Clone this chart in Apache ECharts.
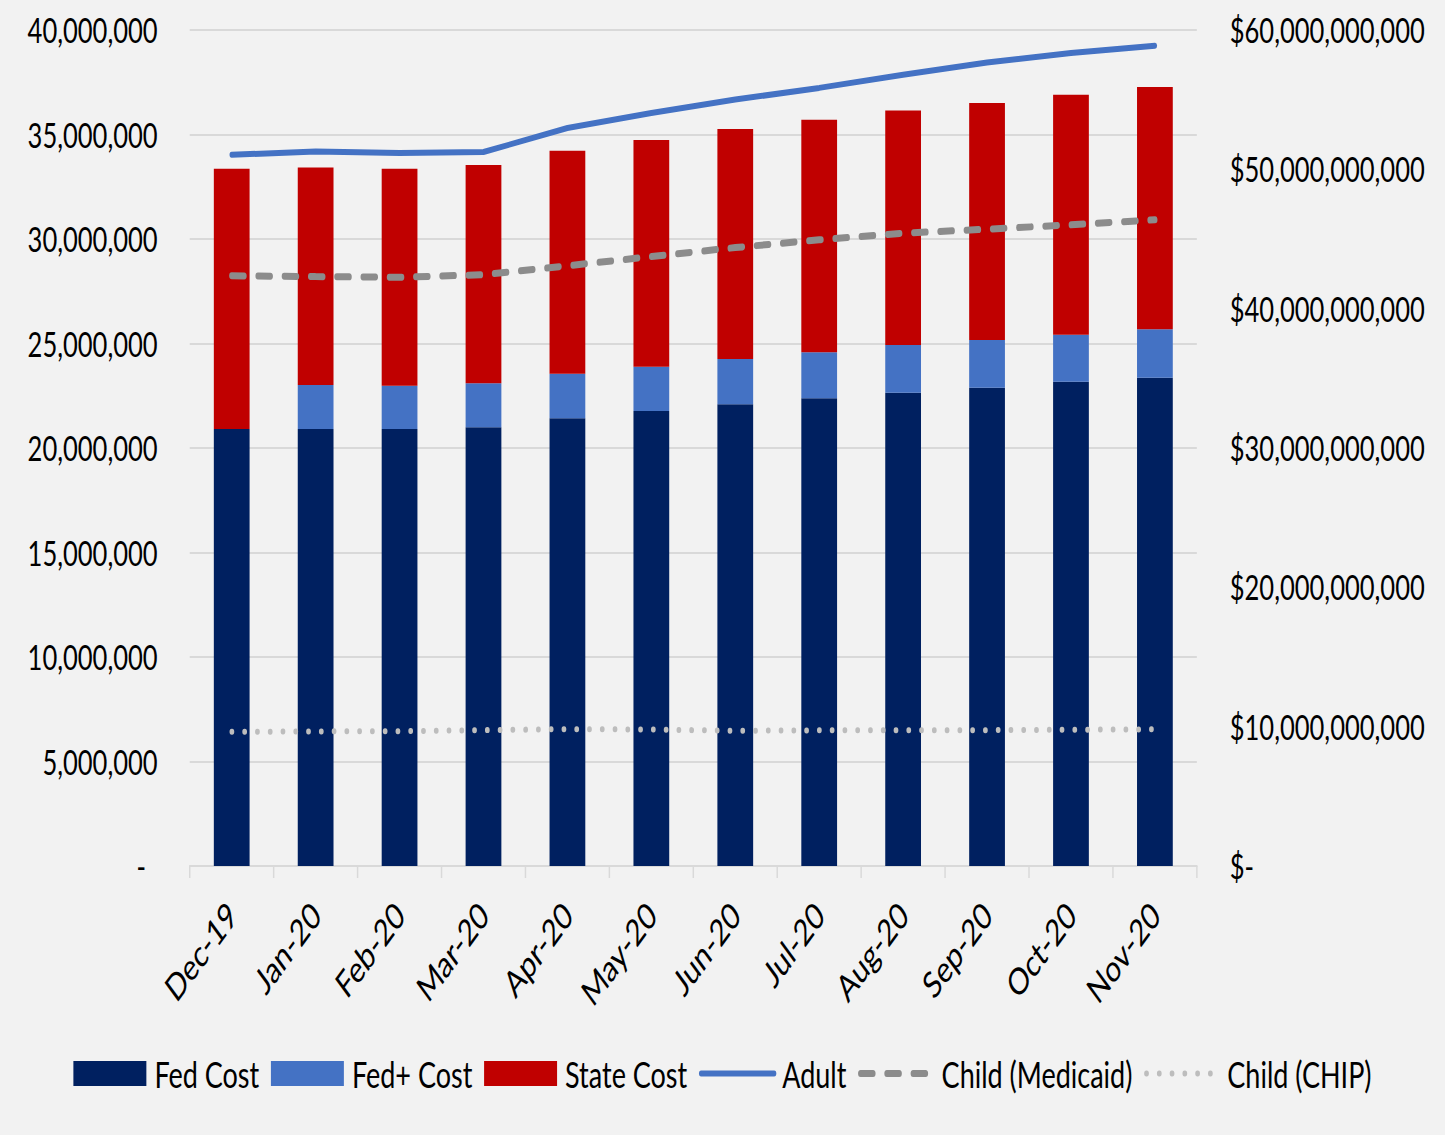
<!DOCTYPE html>
<html>
<head>
<meta charset="utf-8">
<script src="https://cdn.jsdelivr.net/npm/echarts@6/dist/echarts.min.js"></script>
<style>
  html, body { margin: 0; padding: 0; background: #f2f2f2; }
  #wrap { width: 1445px; height: 1135px; overflow: hidden; }
  /* the source picture is squeezed sideways, so the chart is drawn wider and squeezed the same way */
  #chart { width: 1980px; height: 1135px; transform: scaleX(0.729798); transform-origin: 0 0; }
</style>
</head>
<body>
<div id="wrap"><div id="chart"></div></div>
<script>
// months on the x axis
var months = ['Dec-19', 'Jan-20', 'Feb-20', 'Mar-20', 'Apr-20', 'May-20',
              'Jun-20', 'Jul-20', 'Aug-20', 'Sep-20', 'Oct-20', 'Nov-20'];

// costs in dollars (right axis)
var fedCost = [31370000000, 31370000000, 31370000000, 31490000000, 32130000000, 32660000000,
               33140000000, 33570000000, 33970000000, 34330000000, 34760000000, 35050000000];
var fedPlusCost = [0, 3160000000, 3090000000, 3160000000, 3190000000, 3180000000,
                   3250000000, 3310000000, 3430000000, 3430000000, 3360000000, 3480000000];
var stateCost = [18670000000, 15610000000, 15590000000, 15660000000, 16020000000, 16260000000,
                 16500000000, 16680000000, 16830000000, 17000000000, 17240000000, 17380000000];

// enrollment (left axis)
var adult = [34030000, 34190000, 34110000, 34160000, 35310000, 36030000,
             36670000, 37230000, 37860000, 38450000, 38900000, 39250000];
var childMedicaid = [28240000, 28200000, 28170000, 28290000, 28720000, 29160000,
                     29590000, 29960000, 30280000, 30470000, 30680000, 30920000];
var childChip = [6420000, 6440000, 6450000, 6500000, 6550000, 6530000,
                 6470000, 6490000, 6490000, 6500000, 6520000, 6540000];

var FONT = "Lato, 'Open Sans', sans-serif";
var TXT = '#000';

var chart = echarts.init(document.getElementById('chart'), null, { renderer: 'svg' });

//图例: bars get plain rectangles, lines hide their symbol
var lineLegend = function (name, w) {
    return { name: name, itemStyle: { opacity: 0 }, lineStyle: { width: w } };
};

var option = {
    backgroundColor: '#f2f2f2',
    animation: false,
    textStyle: { fontFamily: FONT, color: TXT },
    grid: { left: 260, right: 340, top: 30, bottom: 269, outerBoundsMode: 'none' },
    legend: {
        bottom: 38,
        left: 'center',
        itemWidth: 100,
        itemHeight: 25,
        itemGap: 16,
        textStyle: { fontFamily: FONT, fontSize: 37, color: TXT, padding: [0, 0, 0, 6] },
        data: [
            { name: 'Fed Cost', icon: 'rect' },
            { name: 'Fed+ Cost', icon: 'rect' },
            { name: 'State Cost', icon: 'rect' },
            lineLegend('Adult', 6),
            lineLegend('Child (Medicaid)', 7),
            lineLegend('Child (CHIP)', 6)
        ]
    },
    xAxis: {
        type: 'category',
        data: months,
        boundaryGap: true,
        axisLine: { lineStyle: { color: '#d9d9d9', width: 2 } },
        axisTick: { show: true, length: 12, lineStyle: { color: '#d9d9d9', width: 2 } },
        axisLabel: {
            rotate: 45,
            margin: 42,
            fontSize: 37,
            fontFamily: FONT,
            color: TXT
        }
    },
    yAxis: [{
        type: 'value',
        min: 0,
        max: 40000000,
        interval: 5000000,
        axisLine: { show: false },
        axisTick: { show: false },
        splitLine: { lineStyle: { color: '#d9d9d9', width: 2 } },
        axisLabel: {
            margin: 44,
            fontSize: 35,
            fontFamily: FONT,
            color: TXT,
            formatter: function (v) {
                if (v == 0) return '{d|-}';
                return v.toLocaleString('en-US');
            },
            rich: { d: { fontSize: 35, fontFamily: FONT, color: TXT, padding: [0, 16, 0, 0] } }
        }
    }, {
        type: 'value',
        min: 0,
        max: 60000000000,
        interval: 10000000000,
        axisLine: { show: false },
        axisTick: { show: false },
        splitLine: { show: false },
        axisLabel: {
            margin: 45,
            fontSize: 35,
            fontFamily: FONT,
            color: TXT,
            formatter: function (v) {
                if (v == 0) return '$-';
                return '$' + v.toLocaleString('en-US');
            }
        }
    }],
    series: [{
        name: 'Fed Cost',
        type: 'bar',
        stack: 'cost',
        yAxisIndex: 1,
        barWidth: 49,
        itemStyle: { color: '#002060' },
        data: fedCost
    }, {
        name: 'Fed+ Cost',
        type: 'bar',
        stack: 'cost',
        yAxisIndex: 1,
        barWidth: 49,
        itemStyle: { color: '#4472c4' },
        data: fedPlusCost
    }, {
        name: 'State Cost',
        type: 'bar',
        stack: 'cost',
        yAxisIndex: 1,
        barWidth: 49,
        itemStyle: { color: '#c00000' },
        data: stateCost
    }, {
        name: 'Adult',
        type: 'line',
        yAxisIndex: 0,
        symbol: 'none',
        z: 5,
        lineStyle: { color: '#4472c4', width: 6, cap: 'round' },
        itemStyle: { color: '#4472c4' },
        data: adult
    }, {
        name: 'Child (Medicaid)',
        type: 'line',
        yAxisIndex: 0,
        symbol: 'none',
        z: 5,
        lineStyle: { color: '#8c8c8c', width: 7, type: [17, 19], cap: 'round' },
        itemStyle: { color: '#8c8c8c' },
        data: childMedicaid
    }, {
        name: 'Child (CHIP)',
        type: 'line',
        yAxisIndex: 0,
        symbol: 'none',
        z: 5,
        lineStyle: { color: '#bdbdbd', width: 6, type: [0.5, 17], cap: 'round' },
        itemStyle: { color: '#bdbdbd' },
        data: childChip
    }]
};

chart.setOption(option);
</script>
</body>
</html>
